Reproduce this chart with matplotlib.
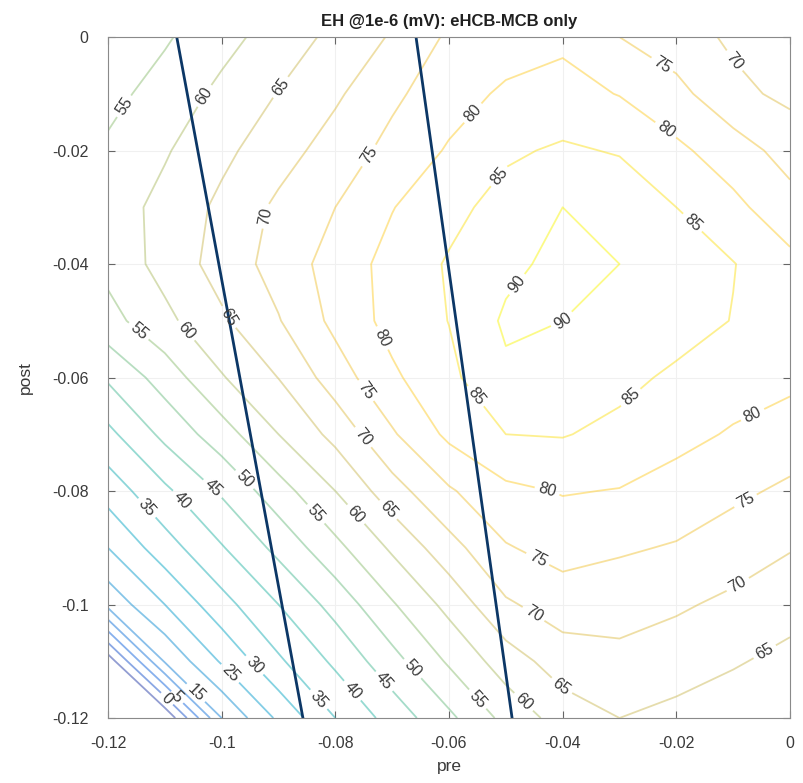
import matplotlib
matplotlib.use('Agg')
import numpy as np
import matplotlib.pyplot as plt
from matplotlib.colors import LinearSegmentedColormap

plt.rcParams.update({'font.family': 'sans-serif',
                     'font.sans-serif': ['Liberation Sans', 'DejaVu Sans']})

# grid axes
pre = [-0.12, -0.11, -0.10, -0.09, -0.08, -0.07, -0.06, -0.05, -0.04, -0.03, -0.02, -0.01, 0.0]
post = [0.0, -0.01, -0.02, -0.03, -0.04, -0.05, -0.06, -0.07, -0.08, -0.09, -0.10, -0.11, -0.12]

# EH values (mV), rows = post (top row is post=0), cols = pre
eh = [
    [51.0, 54.4, 58.3, 62.2, 66.3, 70.5, 75.8, 77.5, 79.0, 75.0, 72.1, 69.2, 67.5],
    [53.5, 57.0, 61.2, 65.2, 69.2, 74.0, 77.9, 80.8, 81.7, 79.8, 76.6, 71.2, 68.9],
    [55.8, 59.5, 63.8, 67.9, 72.2, 76.5, 80.5, 84.2, 85.7, 84.6, 81.0, 77.5, 72.9],
    [57.5, 61.5, 66.1, 71.0, 75.0, 79.8, 83.5, 86.9, 90.0, 88.5, 85.0, 81.2, 77.0],
    [56.5, 61.8, 67.0, 72.0, 77.1, 81.7, 85.5, 88.7, 91.5, 90.0, 87.6, 85.2, 81.3],
    [53.2, 58.7, 64.2, 69.7, 76.3, 81.7, 85.1, 90.8, 90.0, 89.0, 87.4, 84.8, 82.3],
    [45.7, 52.2, 59.6, 65.1, 72.5, 79.1, 83.9, 89.0, 88.0, 86.5, 84.0, 82.3, 81.2],
    [38.7, 46.3, 52.7, 60.0, 66.5, 74.4, 81.1, 85.0, 85.3, 83.6, 81.5, 79.5, 77.6],
    [32.1, 39.0, 45.7, 52.9, 60.0, 67.9, 74.4, 78.9, 80.3, 79.8, 78.0, 76.0, 74.1],
    [25.0, 32.8, 39.6, 46.4, 53.6, 60.8, 68.1, 74.6, 76.9, 75.6, 74.6, 72.6, 70.3],
    [16.5, 25.0, 33.2, 40.0, 46.8, 54.5, 61.5, 69.3, 72.4, 72.1, 70.7, 68.9, 66.9],
    [-8.0, 15.5, 25.6, 34.2, 41.0, 48.2, 55.7, 62.5, 67.5, 68.6, 67.3, 65.5, 63.6],
    [-9.0, -9.5, 15.0, 26.0, 35.0, 42.0, 48.9, 56.5, 62.2, 65.0, 63.6, 62.1, 60.2],
]
levels = list(range(-5, 95, 5))

# overlaid straight lines (pre at post=0 and post=-0.12)
line_post = [0.0, -0.12]
line1_pre = [-0.1079, -0.0857]
line2_pre = [-0.0658, -0.0489]

# approximate label spots
label_xy = [(-0.1161, -0.0129), (-0.1038, -0.0099), (-0.0897, -0.0088), (-0.0915, -0.0317),
            (-0.0742, -0.0208), (-0.0558, -0.0134), (-0.0223, -0.0046), (-0.0097, -0.0041),
            (-0.0216, -0.0160), (-0.0510, -0.0247), (-0.0164, -0.0319), (-0.0484, -0.0433),
            (-0.0392, -0.0513), (-0.1144, -0.0516), (-0.1068, -0.0522), (-0.0998, -0.0499),
            (-0.0735, -0.0539), (-0.0757, -0.0631), (-0.0757, -0.0710), (-0.0572, -0.0648),
            (-0.0281, -0.0634), (-0.0070, -0.0657), (-0.1135, -0.0833), (-0.1070, -0.0816),
            (-0.1015, -0.0795), (-0.0961, -0.0781), (-0.0836, -0.0842), (-0.0765, -0.0842),
            (-0.0707, -0.0833), (-0.0431, -0.0816), (-0.0074, -0.0825), (-0.0445, -0.0922),
            (-0.0449, -0.1013), (-0.0088, -0.0971), (-0.0040, -0.1091), (-0.0405, -0.1147),
            (-0.0472, -0.1175), (-0.0551, -0.1168), (-0.0663, -0.1112), (-0.0716, -0.1137),
            (-0.0769, -0.1151), (-0.0830, -0.1168), (-0.0936, -0.1101), (-0.0994, -0.1130),
            (-0.1040, -0.1150), (-0.1075, -0.1160), (-0.1100, -0.1170)]

parula = LinearSegmentedColormap.from_list('parula', [
    '#352a87', '#0f5cdd', '#1481d6', '#06a4ca', '#2eb7a4',
    '#87bf77', '#d1bb59', '#fec832', '#f9fb0e'])

Z = np.array(eh)[::-1]
post_asc = post[::-1]

fig = plt.figure(figsize=(8.04, 7.83), dpi=100)
ax = fig.add_axes([0.1343, 0.083, 0.8483, 0.8697])
ax.grid(True, color='#f0f0f0', lw=0.8)
ax.set_axisbelow(True)

cs = ax.contour(pre, post_asc, Z, levels=levels, cmap=parula, vmin=-10, vmax=91.5,
                linewidths=1.3, alpha=0.5)
labels = ax.clabel(cs, manual=label_xy, inline=True, inline_spacing=4,
                   fontsize=11.5, colors='#3a3a3a', fmt='%d')
for t in labels:
    t.set_alpha(1.0)

ax.plot(line1_pre, line_post, color='#0c3766', lw=2.0)
ax.plot(line2_pre, line_post, color='#0c3766', lw=2.0)

ax.set_xlim(-0.12, 0)
ax.set_ylim(-0.12, 0)
ticks = [-0.12, -0.1, -0.08, -0.06, -0.04, -0.02, 0]
ticklabels = ['-0.12', '-0.1', '-0.08', '-0.06', '-0.04', '-0.02', '0']
ax.set_xticks(ticks)
ax.set_xticklabels(ticklabels)
ax.set_yticks(ticks)
ax.set_yticklabels(ticklabels)
ax.tick_params(direction='in', top=True, right=True, labelsize=11.5, colors='#666666',
               labelcolor='#3a3a3a', length=5)
ax.tick_params(axis='x', pad=13)
ax.tick_params(axis='y', pad=14)
for s in ax.spines.values():
    s.set_color('#8a8a8a')
ax.set_xlabel('pre', fontsize=12.5, color='#3a3a3a', labelpad=6)
ax.set_ylabel('post', fontsize=12.5, color='#3a3a3a', labelpad=14)
ax.set_title('EH @1e-6 (mV): eHCB-MCB only', fontsize=12, fontweight='bold', color='#202020', pad=8)

fig.savefig('out.png', dpi=100)
